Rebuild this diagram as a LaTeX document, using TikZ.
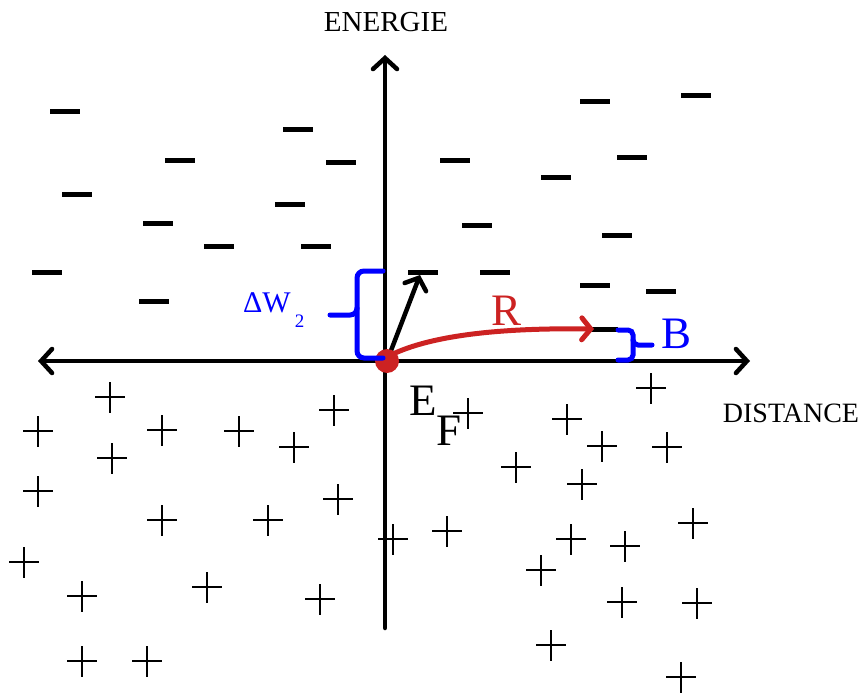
\documentclass[tikz,border=0pt]{standalone}
\usepackage{fontspec}
\setmainfont{Liberation Serif}
\usetikzlibrary{arrows.meta}
\definecolor{myred}{RGB}{204,34,34}
\definecolor{myblue}{RGB}{0,0,255}
\tikzset{
  axis/.style={line width=4.5pt, line cap=round, -{Straight Barb[length=11pt,width=24pt,line cap=round]}},
  dashbar/.style={fill=black, minimum width=30pt, minimum height=5pt, inner sep=0pt, outer sep=0pt},
  plusline/.style={line width=2.4pt},
  bracestyle/.style={myblue, line width=5pt, rounded corners=7pt, line cap=round},
  bigtxt/.style={font=\fontsize{45}{45}\selectfont, inner sep=0pt},
  axtxt/.style={font=\fontsize{28}{28}\selectfont, inner sep=0pt},
}
\begin{document}
\begin{tikzpicture}[x=1pt,y=-1pt]
\useasboundingbox (0,0) rectangle (865,693);
% dashes (electrons levels)
\foreach \i/\x/\y in {1/65/111,2/298/129,3/180/160,4/341/162,5/77/194,6/290/204,7/158/223,8/219/246,9/316/246,10/47/272,11/154/301,
  12/595/101,13/696/95,14/455/160,15/632/157,16/556/177,17/477/225,18/617/235,19/423/272,20/495/272,21/595/285,22/661/291,23/603/329}
  \node[dashbar] (d\i) at (\x,\y) {};
% plus signs
\foreach \x/\y in {110/397,38/431,162/430,239/431,334/410,294/447,112/458,38/491,338/499,162/520,268/520,24/562,82/596,207/587,320/599,82/661,147/661,
  651/388,468/413,567/419,602/446,667/447,516/467,582/484,393/539,447/531,571/539,625/546,693/523,541/570,622/602,697/603,551/645,681/677}
  \draw[plusline] (\x-15,\y) -- (\x+15,\y) (\x,\y-15) -- (\x,\y+16);
% axes
\coordinate (xl) at (38,361);
\coordinate (xr) at (750,361);
\coordinate (yb) at (385,628);
\coordinate (yt) at (385,55);
\coordinate (o) at (385,361);
\draw[axis] (o) -- (xl);
\draw[axis] (o) -- (xr);
\draw[axis] (yb) -- (yt);
% labels
\node[axtxt, font=\fontsize{29}{29}\selectfont] (energie) at (386,22) {ENERGIE};
\node[axtxt] (distance) at (791,413) {DISTANCE};
% Fermi point
\coordinate (efc) at (387,361);
\coordinate (jump) at (420,275);
\coordinate (rend) at (594,329);
\draw[line width=4.5pt, line cap=round, -{Straight Barb[length=10pt,width=23pt,line cap=round]}] (efc) -- (jump);
\draw[myred, line width=5pt, line cap=round, -{Straight Barb[length=9pt,width=22pt,line cap=round]}] (393,354) .. controls (440,332) and (520,328) .. (rend);
\node[circle, fill=myred, minimum size=24pt, inner sep=0pt] (ef) at (efc) {};
\node[bigtxt, myred, anchor=base] (R) at (507,325) {R};
\node[bigtxt, anchor=base west] (E) at (409,415) {E};
\node[bigtxt, anchor=base west] (F) at (436,445) {F};
% brace Delta W2
\draw[bracestyle] (383,271) -- (357,271) -- (357,315) -- (330,315);
\draw[bracestyle] (357,308) -- (357,358) -- (383,358);
\node[anchor=base west, inner sep=0pt, myblue] (dw) at (243,312) {\fontsize{30}{30}\selectfont ΔW\hspace{4pt}\raisebox{-15pt}{\fontsize{19}{19}\selectfont 2}};
% brace B
\draw[bracestyle, rounded corners=5pt] (618,330) -- (633,330) -- (633,345) -- (652,345);
\draw[bracestyle, rounded corners=5pt] (633,340) -- (633,360) -- (618,360);
\node[bigtxt, myblue, anchor=base west] (B) at (661,348) {B};
\end{tikzpicture}
\end{document}
